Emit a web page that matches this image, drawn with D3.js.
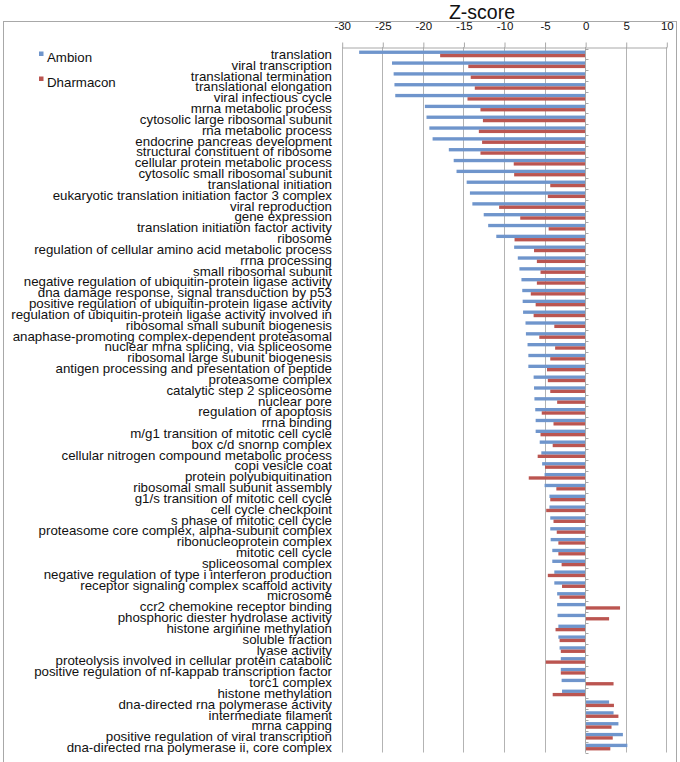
<!DOCTYPE html>
<html>
<head>
<meta charset="utf-8">
<script src="https://cdn.jsdelivr.net/npm/d3@7"></script>
<style>
  html, body { margin: 0; padding: 0; background: #fff; }
  svg { display: block; font-family: "Liberation Sans", Arial, Helvetica, sans-serif; }
</style>
</head>
<body>
<svg id="chart" width="680" height="762"></svg>
<script>
const categories = [
  "translation",
  "viral transcription",
  "translational termination",
  "translational elongation",
  "viral infectious cycle",
  "mrna metabolic process",
  "cytosolic large ribosomal subunit",
  "rna metabolic process",
  "endocrine pancreas development",
  "structural constituent of ribosome",
  "cellular protein metabolic process",
  "cytosolic small ribosomal subunit",
  "translational initiation",
  "eukaryotic translation initiation factor 3 complex",
  "viral reproduction",
  "gene expression",
  "translation initiation factor activity",
  "ribosome",
  "regulation of cellular amino acid metabolic process",
  "rrna processing",
  "small ribosomal subunit",
  "negative regulation of ubiquitin-protein ligase activity",
  "dna damage response, signal transduction by p53",
  "positive regulation of ubiquitin-protein ligase activity",
  "regulation of ubiquitin-protein ligase activity involved in",
  "ribosomal small subunit biogenesis",
  "anaphase-promoting complex-dependent proteasomal",
  "nuclear mrna splicing, via spliceosome",
  "ribosomal large subunit biogenesis",
  "antigen processing and presentation of peptide",
  "proteasome complex",
  "catalytic step 2 spliceosome",
  "nuclear pore",
  "regulation of apoptosis",
  "rrna binding",
  "m/g1 transition of mitotic cell cycle",
  "box c/d snornp complex",
  "cellular nitrogen compound metabolic process",
  "copi vesicle coat",
  "protein polyubiquitination",
  "ribosomal small subunit assembly",
  "g1/s transition of mitotic cell cycle",
  "cell cycle checkpoint",
  "s phase of mitotic cell cycle",
  "proteasome core complex, alpha-subunit complex",
  "ribonucleoprotein complex",
  "mitotic cell cycle",
  "spliceosomal complex",
  "negative regulation of type i interferon production",
  "receptor signaling complex scaffold activity",
  "microsome",
  "ccr2 chemokine receptor binding",
  "phosphoric diester hydrolase activity",
  "histone arginine methylation",
  "soluble fraction",
  "lyase activity",
  "proteolysis involved in cellular protein catabolic",
  "positive regulation of nf-kappab transcription factor",
  "torc1 complex",
  "histone methylation",
  "dna-directed rna polymerase activity",
  "intermediate filament",
  "mrna capping",
  "positive regulation of viral transcription",
  "dna-directed rna polymerase ii, core complex"
];

const ambion = [
  -27.85, -23.8, -23.6, -23.5, -23.4, -19.75, -19.55, -19.2, -18.8, -16.8,
  -16.2, -15.85, -14.6, -14.2, -13.9, -12.5, -11.95, -10.95, -8.75, -8.3,
  -8.1, -7.85, -7.75, -7.7, -7.65, -7.35, -7.3, -7.1, -7.0, -7.0,
  -6.35, -6.3, -6.25, -6.15, -6.1, -6.1, -5.6, -5.4, -5.3, -5.0,
  -5.0, -4.4, -4.4, -4.3, -4.3, -4.25, -4.05, -4.05, -3.8, -3.8,
  -3.45, -3.45, -3.4, -3.3, -3.3, -3.15, -3.0, -3.0, -2.9, -2.85,
  2.95, 3.5, 4.1, 4.65, 5.2
];

const dharmacon = [
  -17.87, -14.4, -14.1, -13.6, -14.5, -12.9, -12.6, -13.1, -12.7, -12.9,
  -8.8, -8.75, -4.3, -4.6, -10.6, -8.0, -4.5, -8.7, -6.3, -5.95,
  -5.5, -5.95, -6.7, -6.1, -6.35, -3.8, -5.65, -3.7, -4.3, -4.7,
  -4.6, -4.3, -3.45, -5.35, -3.9, -5.5, -4.0, -5.85, -4.95, -6.95,
  -3.55, -4.3, -4.8, -3.9, -3.5, -3.3, -3.3, -2.9, -4.6, -2.85,
  -3.15, 4.3, 2.95, -3.65, -3.15, -3.0, -4.85, -3.0, 3.5, -4.0,
  3.55, 4.1, 3.25, 3.4, 3.1
];

const seriesNames = ["Ambion", "Dharmacon"];
const seriesColors = ["#6f95cc", "#bb5550"];
const xTicks = [-30, -25, -20, -15, -10, -5, 0, 5, 10];
const title = "Z-score";

const svg = d3.select("#chart");

// outer chart border
svg.append("rect")
  .attr("x", 3.5).attr("y", 21.5)
  .attr("width", 673).attr("height", 760)
  .attr("fill", "none").attr("stroke", "#a8a8a8").attr("stroke-width", 1);

const x = d3.scaleLinear().domain([-30, 10]).range([341.7, 666.3]);
const y = d3.scaleBand().domain(categories).range([48.5, 752.5]).paddingInner(0).paddingOuter(0);
const sub = d3.scaleBand().domain(seriesNames).range([0, y.step()]).paddingInner(0).paddingOuter(0.62);

const plotTop = 47, plotBottom = 752.5;

// gridlines
svg.append("g").selectAll("line").data(xTicks).join("line")
  .attr("x1", d => Math.round(x(d)) + 0.5).attr("x2", d => Math.round(x(d)) + 0.5)
  .attr("y1", plotTop).attr("y2", plotBottom)
  .attr("stroke", "#b3b3b3").attr("stroke-width", 1);

// top axis
const axis = d3.axisTop(x).tickValues(xTicks).tickSize(5).tickSizeOuter(0).tickPadding(12.5)
  .tickFormat(d3.format("d"));
const gAxis = svg.append("g").attr("transform", `translate(0.5,${plotTop + 0.5})`).call(axis);
gAxis.select(".domain").attr("stroke", "#a8a8a8");
gAxis.selectAll(".tick line").attr("stroke", "#a8a8a8");
gAxis.selectAll(".tick text")
  .attr("font-size", 11.5).attr("fill", "#111")
  .attr("font-family", "'Liberation Sans', Arial, sans-serif")
  .text(d => d < 0 ? "-" + Math.abs(d) : String(d));

// title
svg.append("text")
  .attr("x", 482).attr("y", 19)
  .attr("text-anchor", "middle")
  .attr("font-size", 19.5).attr("fill", "#111")
  .text(title);

// bars
const rows = categories.map((c, i) => ({ c, vals: [ambion[i], dharmacon[i]] }));
const gBars = svg.append("g");
rows.forEach(r => {
  seriesNames.forEach((s, j) => {
    const v = r.vals[j];
    gBars.append("rect")
      .attr("x", Math.min(x(0), x(v)))
      .attr("y", y(r.c) + sub(s))
      .attr("width", Math.abs(x(v) - x(0)))
      .attr("height", sub.bandwidth())
      .attr("fill", seriesColors[j]);
  });
});

// category axis at zero with small ticks
const zx = Math.round(x(0)) + 0.5;
svg.append("line")
  .attr("x1", zx).attr("x2", zx).attr("y1", plotTop).attr("y2", plotBottom)
  .attr("stroke", "#a8a8a8");
const boundaries = categories.map(c => y(c)).concat([y.range()[1]]);
svg.append("g").selectAll("line").data(boundaries).join("line")
  .attr("x1", zx).attr("x2", zx + 3)
  .attr("y1", d => Math.round(d) + 0.5).attr("y2", d => Math.round(d) + 0.5)
  .attr("stroke", "#a8a8a8");

// category labels
svg.append("g").selectAll("text").data(categories).join("text")
  .attr("x", 332)
  .attr("y", d => y(d) + y.step() / 2 + 5)
  .attr("text-anchor", "end")
  .attr("font-size", 13.3).attr("fill", "#111")
  .text(d => d);

// legend
const legY = [51.5, 76.5];
const gLeg = svg.append("g");
seriesNames.forEach((s, j) => {
  gLeg.append("rect").attr("x", 39).attr("y", legY[j]).attr("width", 4.5).attr("height", 4.5)
    .attr("fill", seriesColors[j]);
  gLeg.append("text").attr("x", 47).attr("y", legY[j] + 10).attr("font-size", 13.3).attr("fill", "#111").text(s);
});
</script>
</body>
</html>
